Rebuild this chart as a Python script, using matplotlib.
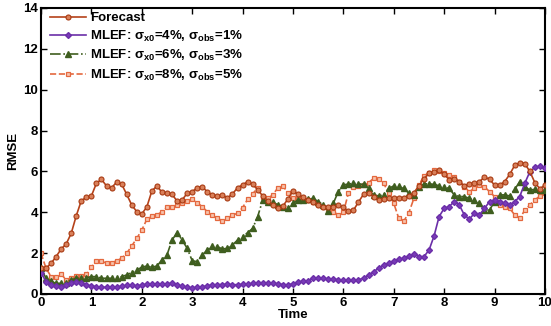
import numpy as np
import matplotlib
matplotlib.use("Agg")
import matplotlib.pyplot as plt

plt.rcParams['font.family'] = ['Liberation Sans', 'DejaVu Sans']
plt.rcParams['font.weight'] = 'bold'
plt.rcParams['mathtext.fontset'] = 'custom'
plt.rcParams['mathtext.rm'] = 'Liberation Sans:bold'
plt.rcParams['mathtext.it'] = 'Liberation Sans:bold'
plt.rcParams['mathtext.bf'] = 'Liberation Sans:bold'

time = np.round(np.arange(0, 10.01, 0.1), 1)

forecast = [1.25, 1.26, 1.50, 1.83, 2.20, 2.45, 2.97, 3.83, 4.57, 4.73,
            4.80, 5.42, 5.61, 5.29, 5.20, 5.47, 5.38, 4.88, 4.36, 4.03,
            3.92, 4.26, 5.04, 5.29, 4.98, 4.93, 4.88, 4.55, 4.60, 4.93,
            5.01, 5.20, 5.25, 5.00, 4.85, 4.78, 4.85, 4.70, 4.90, 5.20,
            5.34, 5.50, 5.37, 5.10, 4.80, 4.55, 4.35, 4.19, 4.30, 4.65,
            5.04, 4.88, 4.73, 4.60, 4.50, 4.38, 4.27, 4.27, 4.27, 4.35,
            4.25, 4.05, 4.10, 4.50, 4.88, 4.96, 4.75, 4.60, 4.65, 4.72,
            4.70, 4.70, 4.72, 4.80, 4.96, 5.30, 5.65, 5.90, 5.95, 6.05,
            5.85, 5.60, 5.65, 5.50, 5.30, 5.40, 5.42, 5.50, 5.72, 5.62,
            5.33, 5.33, 5.50, 5.85, 6.30, 6.43, 6.38, 6.00, 5.45, 5.15,
            5.33]

mlef_4_1 = [1.05, 0.60, 0.44, 0.39, 0.36, 0.44, 0.55, 0.60, 0.52, 0.44,
            0.39, 0.36, 0.33, 0.33, 0.35, 0.35, 0.37, 0.42, 0.43, 0.40,
            0.44, 0.48, 0.50, 0.48, 0.47, 0.50, 0.52, 0.45, 0.38, 0.33,
            0.30, 0.33, 0.35, 0.40, 0.45, 0.46, 0.46, 0.48, 0.45, 0.46,
            0.47, 0.48, 0.52, 0.55, 0.55, 0.55, 0.53, 0.50, 0.46, 0.45,
            0.50, 0.58, 0.63, 0.65, 0.78, 0.80, 0.76, 0.74, 0.72, 0.70,
            0.69, 0.69, 0.67, 0.70, 0.77, 0.93, 1.09, 1.26, 1.40, 1.50,
            1.63, 1.70, 1.75, 1.86, 1.96, 1.83, 1.83, 2.15, 2.84, 3.79,
            4.19, 4.28, 4.52, 4.36, 3.87, 3.66, 3.95, 3.87, 4.19, 4.52,
            4.60, 4.52, 4.44, 4.36, 4.52, 4.77, 5.42, 5.98, 6.20, 6.26,
            6.15]

mlef_6_3 = [1.25, 0.77, 0.62, 0.52, 0.52, 0.55, 0.69, 0.77, 0.80, 0.80,
            0.85, 0.85, 0.77, 0.77, 0.77, 0.77, 0.85, 0.93, 1.05, 1.17,
            1.31, 1.37, 1.31, 1.37, 1.66, 1.91, 2.64, 3.00, 2.64, 2.24,
            1.63, 1.58, 1.91, 2.15, 2.35, 2.32, 2.20, 2.24, 2.40, 2.64,
            2.81, 3.00, 3.21, 3.79, 4.60, 4.52, 4.48, 4.38, 4.27, 4.22,
            4.45, 4.60, 4.60, 4.63, 4.68, 4.52, 4.36, 4.06, 4.44, 5.01,
            5.34, 5.38, 5.42, 5.40, 5.36, 5.17, 4.85, 4.80, 4.85, 5.17,
            5.29, 5.29, 5.17, 4.93, 4.85, 5.25, 5.38, 5.40, 5.36, 5.30,
            5.25, 5.17, 4.85, 4.77, 4.77, 4.68, 4.60, 4.44, 4.11, 4.11,
            4.52, 4.85, 4.85, 4.80, 5.12, 5.50, 5.25, 5.09, 5.12, 5.09,
            5.09]

mlef_8_5 = [2.00, 1.26, 0.85, 0.85, 0.97, 0.69, 0.77, 0.88, 0.88, 0.96,
            1.31, 1.62, 1.62, 1.50, 1.53, 1.62, 1.75, 1.99, 2.35, 2.72,
            3.13, 3.65, 3.81, 3.86, 4.03, 4.24, 4.24, 4.36, 4.47, 4.57,
            4.63, 4.47, 4.27, 4.03, 3.86, 3.70, 3.59, 3.70, 3.86, 3.95,
            4.23, 4.63, 4.90, 5.20, 4.77, 4.68, 4.85, 5.20, 5.30, 4.93,
            4.70, 4.65, 4.62, 4.58, 4.50, 4.40, 4.25, 4.10, 4.03, 3.87,
            4.00, 4.93, 5.25, 5.28, 5.34, 5.45, 5.66, 5.61, 5.42, 4.93,
            4.44, 3.70, 3.57, 3.98, 4.68, 5.34, 5.78, 5.94, 6.05, 6.03,
            5.90, 5.82, 5.74, 5.50, 5.25, 5.01, 5.17, 5.33, 5.25, 5.01,
            4.77, 4.36, 4.28, 4.19, 3.87, 3.70, 4.10, 4.36, 4.60, 4.80,
            4.93]

labels = ['Forecast',
          'MLEF: σ$_{x0}$=4%, σ$_{obs}$=1%',
          'MLEF: σ$_{x0}$=6%, σ$_{obs}$=3%',
          'MLEF: σ$_{x0}$=8%, σ$_{obs}$=5%']

fig = plt.figure(figsize=(5.51, 3.26), dpi=100)
ax = fig.add_axes([0.0744, 0.0982, 0.9146, 0.8773])

ax.plot(time, forecast, '-', color='#b5421a', lw=1.2, marker='o', ms=3.6,
        mfc='#d9805a', mec='#a83a12', mew=0.8, label=labels[0], zorder=5)
ax.plot(time, mlef_4_1, '-', color='#6b2fa8', lw=1.2, marker='D', ms=3.0,
        mfc='#7a3bb8', mec='#6b2fa8', label=labels[1], zorder=4)
ax.plot(time, mlef_6_3, '-.', color='#3f5e1f', lw=1.2, marker='^', ms=4.0,
        mfc='#3f5e1f', mec='#3f5e1f', label=labels[2], zorder=3)
ax.plot(time, mlef_8_5, '--', color='#e4683e', lw=1.2, marker='s', ms=3.4,
        mfc='#f7c4ae', mec='#e4683e', mew=0.9, label=labels[3], zorder=2)

ax.set_xlim(0, 10)
ax.set_ylim(0, 14)
ax.set_xticks(range(0, 11))
ax.set_yticks(range(0, 15, 2))
ax.tick_params(direction='in', top=True, right=True, length=4, width=1,
               labelsize=9.5, pad=2)
for lab in ax.get_xticklabels() + ax.get_yticklabels():
    lab.set_fontweight('bold')
for sp in ax.spines.values():
    sp.set_linewidth(1.5)

ax.set_xlabel('Time', fontsize=9.5, fontweight='bold', labelpad=0)
ax.set_ylabel('RMSE', fontsize=9.5, fontweight='bold', labelpad=3)

leg = ax.legend(loc='upper left', bbox_to_anchor=(0.018, 0.986),
                frameon=False, fontsize=9.5,
                handlelength=2.7, handletextpad=0.3, labelspacing=0.33,
                borderaxespad=0.0, borderpad=0.0)
for t in leg.get_texts():
    t.set_fontweight('bold')

fig.savefig('out.png', dpi=100)
